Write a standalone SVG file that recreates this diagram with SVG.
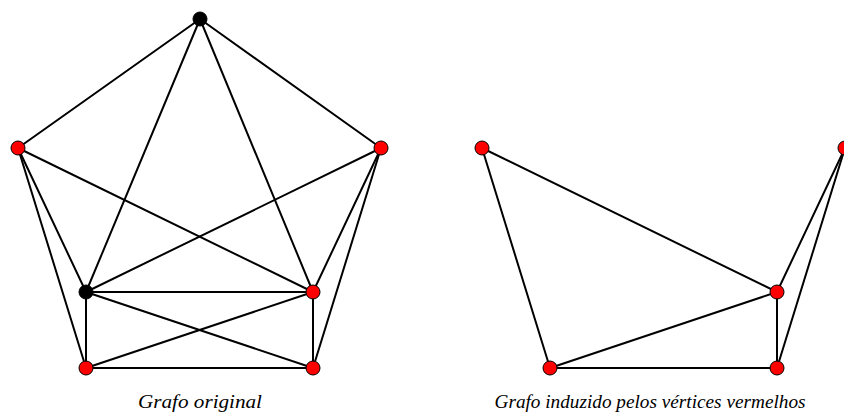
<svg xmlns="http://www.w3.org/2000/svg" width="844" height="415" viewBox="0 0 844 415">
  <style>
    .edge { stroke: #000; stroke-width: 2; fill: none; stroke-linecap: round; }
    .red { fill: #ff0000; stroke: #000; stroke-width: 1; }
    .black { fill: #000; stroke: #000; stroke-width: 1; }
    .cap { font-family: "Liberation Serif", "DejaVu Serif", serif; font-style: italic; font-size: 19px; fill: #000; text-anchor: middle; }
  </style>
  <rect width="844" height="415" fill="#fff"/>

  <!-- edges of the original graph -->
  <g id="edges-original">
    <line class="edge" x1="200" y1="19" x2="18" y2="148"/>
    <line class="edge" x1="200" y1="19" x2="381" y2="148"/>
    <line class="edge" x1="200" y1="19" x2="86" y2="292"/>
    <line class="edge" x1="200" y1="19" x2="313" y2="292"/>
    <line class="edge" x1="18" y1="148" x2="86" y2="292"/>
    <line class="edge" x1="18" y1="148" x2="86" y2="368"/>
    <line class="edge" x1="18" y1="148" x2="313" y2="292"/>
    <line class="edge" x1="381" y1="148" x2="86" y2="292"/>
    <line class="edge" x1="381" y1="148" x2="313" y2="292"/>
    <line class="edge" x1="381" y1="148" x2="313" y2="368"/>
    <line class="edge" x1="86" y1="292" x2="313" y2="292"/>
    <line class="edge" x1="86" y1="292" x2="86" y2="368"/>
    <line class="edge" x1="86" y1="292" x2="313" y2="368"/>
    <line class="edge" x1="313" y1="292" x2="86" y2="368"/>
    <line class="edge" x1="313" y1="292" x2="313" y2="368"/>
    <line class="edge" x1="86" y1="368" x2="313" y2="368"/>
  </g>

  <!-- edges of the induced subgraph -->
  <g id="edges-induced">
    <line class="edge" x1="482" y1="148" x2="550" y2="368"/>
    <line class="edge" x1="482" y1="148" x2="777" y2="292"/>
    <line class="edge" x1="845" y1="148" x2="777" y2="292"/>
    <line class="edge" x1="845" y1="148" x2="777" y2="368"/>
    <line class="edge" x1="777" y1="292" x2="550" y2="368"/>
    <line class="edge" x1="777" y1="292" x2="777" y2="368"/>
    <line class="edge" x1="550" y1="368" x2="777" y2="368"/>
  </g>

  <!-- vertices of the original graph -->
  <g id="v-top"><circle class="black" cx="200" cy="19" r="7"/></g>
  <g id="v-left"><circle class="red" cx="18" cy="148" r="7"/></g>
  <g id="v-right"><circle class="red" cx="381" cy="148" r="7"/></g>
  <g id="v-inner-left"><circle class="black" cx="86" cy="292" r="7"/></g>
  <g id="v-inner-right"><circle class="red" cx="313" cy="292" r="7"/></g>
  <g id="v-bottom-left"><circle class="red" cx="86" cy="368" r="7"/></g>
  <g id="v-bottom-right"><circle class="red" cx="313" cy="368" r="7"/></g>

  <!-- vertices of the induced subgraph -->
  <g id="w-left"><circle class="red" cx="482" cy="148" r="7"/></g>
  <g id="w-right"><circle class="red" cx="845" cy="148" r="7"/></g>
  <g id="w-inner-right"><circle class="red" cx="777" cy="292" r="7"/></g>
  <g id="w-bottom-left"><circle class="red" cx="550" cy="368" r="7"/></g>
  <g id="w-bottom-right"><circle class="red" cx="777" cy="368" r="7"/></g>

  <!-- captions -->
  <text class="cap" x="200" y="408" textLength="124" lengthAdjust="spacingAndGlyphs">Grafo original</text>
  <text class="cap" x="650" y="408" textLength="311" lengthAdjust="spacingAndGlyphs">Grafo induzido pelos vértices vermelhos</text>
</svg>
